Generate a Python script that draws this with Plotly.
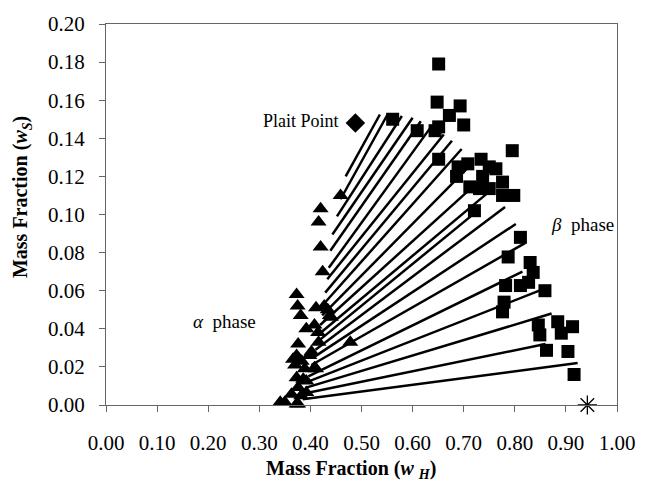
import plotly.graph_objects as go

# alpha phase (triangles)
alpha_x = [0.459, 0.420, 0.416, 0.420, 0.424, 0.373, 0.375, 0.381, 0.411, 0.427, 0.438,
           0.434, 0.440, 0.392, 0.408, 0.415, 0.416, 0.478, 0.376, 0.373, 0.366, 0.383,
           0.398, 0.402, 0.370, 0.389, 0.408, 0.411, 0.373, 0.386, 0.392, 0.376, 0.363,
           0.382, 0.392, 0.350, 0.341, 0.376, 0.373]
alpha_y = [0.110, 0.103, 0.096, 0.083, 0.070, 0.058, 0.052, 0.047, 0.051, 0.052, 0.047,
           0.050, 0.046, 0.040, 0.042, 0.038, 0.033, 0.033, 0.032, 0.026, 0.024, 0.023,
           0.026, 0.028, 0.021, 0.019, 0.0195, 0.019, 0.0143, 0.0135, 0.0126, 0.0092, 0.0057,
           0.0048, 0.0066, 0.0014, 0.0014, 0.0005, 0.0005]

# beta phase (squares)
beta_x = [0.651, 0.648, 0.693, 0.672, 0.651, 0.700, 0.609, 0.561, 0.644, 0.795, 0.651,
          0.689, 0.708, 0.734, 0.750, 0.763, 0.686, 0.737, 0.712, 0.731, 0.750, 0.776,
          0.776, 0.798, 0.721, 0.811, 0.787, 0.830, 0.836, 0.782, 0.811, 0.827, 0.859,
          0.779, 0.776, 0.846, 0.884, 0.913, 0.849, 0.891, 0.862, 0.904, 0.916]
beta_y = [0.179, 0.159, 0.157, 0.152, 0.146, 0.147, 0.144, 0.150, 0.144, 0.1335, 0.129,
          0.125, 0.1266, 0.129, 0.125, 0.124, 0.120, 0.120, 0.1145, 0.1136, 0.1136, 0.117,
          0.110, 0.110, 0.102, 0.088, 0.0777, 0.0748, 0.0696, 0.0627, 0.0627, 0.0644, 0.060,
          0.054, 0.0489, 0.042, 0.0437, 0.0411, 0.0368, 0.0377, 0.0287, 0.0281, 0.016]

# tie lines: alpha end -> beta end
tie_ax = [0.385, 0.388, 0.390, 0.393, 0.396, 0.402, 0.406, 0.410, 0.413, 0.416, 0.419,
          0.423, 0.426, 0.429, 0.433, 0.436, 0.439, 0.443, 0.452, 0.459, 0.469]
tie_ay = [0.003, 0.006, 0.009, 0.012, 0.015, 0.021, 0.025, 0.029, 0.033, 0.037, 0.042,
          0.047, 0.053, 0.059, 0.066, 0.072, 0.081, 0.0895, 0.099, 0.108, 0.120]
tie_bx = [0.923, 0.860, 0.872, 0.848, 0.815, 0.820, 0.802, 0.781, 0.725, 0.757, 0.740,
          0.719, 0.696, 0.677, 0.661, 0.635, 0.616, 0.600, 0.579, 0.551, 0.536]
tie_by = [0.022, 0.032, 0.048, 0.060, 0.070, 0.085, 0.095, 0.104, 0.1015, 0.1136, 0.120,
          0.1275, 0.1344, 0.1387, 0.142, 0.1456, 0.149, 0.1508, 0.1517, 0.1525, 0.1525]

plait_x, plait_y = [0.488], [0.148]
solvent_x, solvent_y = [0.942], [0.0]

FONT = "Liberation Serif"

lx, ly = [], []
for a, b, c, d in zip(tie_ax, tie_ay, tie_bx, tie_by):
    lx += [a, c, None]
    ly += [b, d, None]

fig = go.Figure()
fig.add_trace(go.Scatter(x=lx, y=ly, mode="lines", line=dict(color="black", width=2.5),
                         hoverinfo="skip", cliponaxis=False))
fig.add_trace(go.Scatter(x=alpha_x, y=alpha_y, mode="markers", cliponaxis=False,
                         marker=dict(symbol="triangle-up", size=14, color="black")))
fig.add_trace(go.Scatter(x=beta_x, y=beta_y, mode="markers", cliponaxis=False,
                         marker=dict(symbol="square", size=13, color="black")))
fig.add_trace(go.Scatter(x=plait_x, y=plait_y, mode="markers", cliponaxis=False,
                         marker=dict(symbol="diamond", size=15, color="black")))
fig.add_trace(go.Scatter(x=solvent_x, y=solvent_y, mode="markers", cliponaxis=False,
                         marker=dict(symbol="asterisk-open", size=16, color="black",
                                     line=dict(color="black", width=1.3))))

axis_common = dict(showgrid=False, zeroline=False, ticks="outside", ticklen=6,
                   tickcolor="#666", linecolor="#666", linewidth=1, mirror=True,
                   tickformat=".2f", tickfont=dict(family=FONT, size=21, color="black"))

fig.update_layout(
    width=647, height=481,
    margin=dict(l=106, r=21, t=20, b=76),
    plot_bgcolor="white", paper_bgcolor="white",
    showlegend=False,
    font=dict(family=FONT, color="black"),
    xaxis=dict(range=[0, 1], tick0=0, dtick=0.1, ticklabelstandoff=13, **axis_common),
    yaxis=dict(range=[0, 0.2], tick0=0, dtick=0.02, ticklabelstandoff=10, **axis_common),
    annotations=[
        dict(x=0.46, y=0.149, xref="x", yref="y", text="Plait Point", showarrow=False,
             xanchor="right", yanchor="middle", font=dict(family=FONT, size=18)),
        dict(x=0.166, y=0.0436, xref="x", yref="y", text="<i>α</i>  phase", showarrow=False,
             xanchor="left", yanchor="middle", font=dict(family=FONT, size=19)),
        dict(x=0.866, y=0.095, xref="x", yref="y", text="<i>β</i>  phase", showarrow=False,
             xanchor="left", yanchor="middle", font=dict(family=FONT, size=19)),
        dict(x=0.479, y=-0.168, xref="paper", yref="paper",
             text="<b>Mass Fraction (<i>w</i> <sub><i>H</i></sub>)</b>", showarrow=False,
             xanchor="center", yanchor="middle", font=dict(family=FONT, size=20)),
        dict(x=-0.165, y=0.545, xref="paper", yref="paper", textangle=-90,
             text="<b>Mass Fraction (<i>w</i><sub><i>S</i></sub>)</b>", showarrow=False,
             xanchor="center", yanchor="middle", font=dict(family=FONT, size=20)),
    ],
)

fig.write_html("out.html")
